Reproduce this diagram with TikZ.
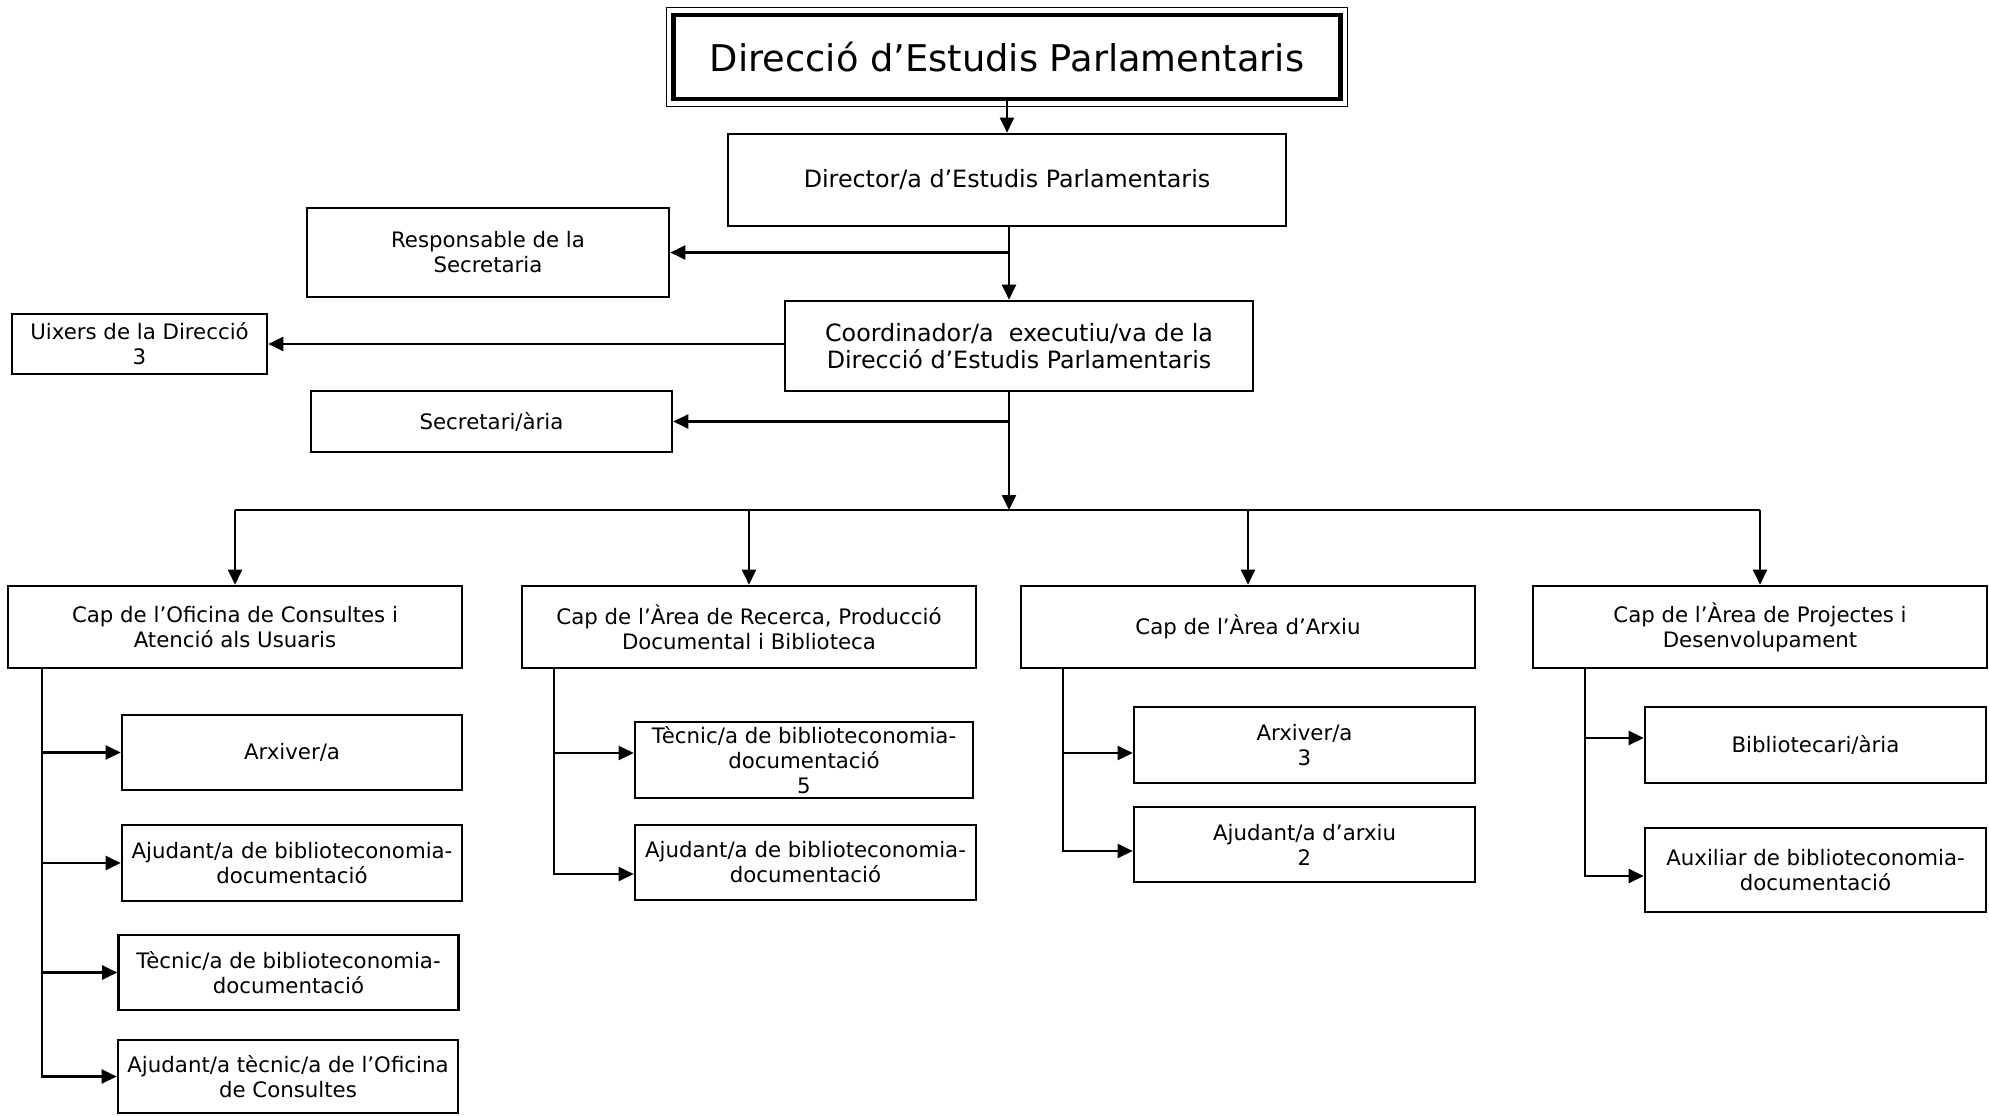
\documentclass[tikz,border=0pt]{standalone}
\usepackage{fontspec}
\setmainfont{DejaVu Sans}
\usetikzlibrary{arrows.meta}

\begin{document}
\begin{tikzpicture}[x=1pt,y=-1pt,
    box/.style={draw, line width=2.6pt, align=center, inner sep=0pt,
                font=\fontsize{21.3}{25}\selectfont},
    bigbox/.style={box, font=\fontsize{23.8}{27.5}\selectfont},
    head/.style={box, minimum width=454pt, minimum height=82pt},
    sub/.style={box, minimum width=340pt, minimum height=76pt},
    line/.style={line width=2.2pt},
    arr/.style={line width=2.2pt, -{Triangle[length=15pt,width=14pt]}}]

\useasboundingbox (0,0) rectangle (1989,1116);

% top of the chart
\node[draw, line width=4.5pt, minimum width=667pt, minimum height=84pt,
      font=\fontsize{36.8}{40}\selectfont] (dep) at (1007,57) {Direcció d’Estudis Parlamentaris};
\draw[line width=1.2pt] ([shift={(-5,-5)}]dep.north west) rectangle ([shift={(5,5)}]dep.south east);

\node[bigbox, minimum width=558pt, minimum height=92pt] (director) at (1007,180) {Director/a d’Estudis Parlamentaris};
\node[box, minimum width=362pt, minimum height=89pt] (resp) at (488,252.5) {Responsable de la\\Secretaria};
\node[box, minimum width=255pt, minimum height=60pt] (uixers) at (139.5,344) {Uixers de la Direcció\\3};
\node[bigbox, minimum width=468pt, minimum height=90pt] (coord) at (1019,346) {Coordinador/a \ executiu/va de la\\Direcció d’Estudis Parlamentaris};
\node[box, minimum width=361pt, minimum height=61pt] (secr) at (491.5,421.5) {Secretari/ària};

% areas
\node[head] (ofi) at (235,627) {Cap de l’Oficina de Consultes i\\Atenció als Usuaris};
\node[head] (rec) at (749,627) {Cap de l’Àrea de Recerca, Producció\\Documental i Biblioteca};
\node[head] (arx) at (1248,627) {Cap de l’Àrea d’Arxiu};
\node[head] (proj) at (1760,627) {Cap de l’Àrea de Projectes i\\Desenvolupament};

% staff
\node[sub, minimum height=75pt] (ofi1) at (292,752.5) {Arxiver/a};
\node[sub] (ofi2) at (292,863) {Ajudant/a de biblioteconomia-\\documentació};
\node[sub, minimum height=75pt] (ofi3) at (288.5,972.5) {Tècnic/a de biblioteconomia-\\documentació};
\node[sub, minimum height=73pt] (ofi4) at (288,1076.5) {Ajudant/a tècnic/a de l’Oficina\\de Consultes};

\node[sub, minimum width=338pt] (rec1) at (804,760) {Tècnic/a de biblioteconomia-\\documentació\\5};
\node[sub, minimum width=341pt, minimum height=75pt] (rec2) at (805.5,862.5) {Ajudant/a de biblioteconomia-\\documentació};

\node[sub, minimum width=341pt] (arx1) at (1304.5,745) {Arxiver/a\\3};
\node[sub, minimum width=341pt, minimum height=75pt] (arx2) at (1304.5,844.5) {Ajudant/a d’arxiu\\2};

\node[sub, minimum width=341pt] (proj1) at (1815.5,745) {Bibliotecari/ària};
\node[sub, minimum width=341pt, minimum height=84pt] (proj2) at (1815.5,870) {Auxiliar de biblioteconomia-\\documentació};

% connectors
\coordinate (sp) at (1009,0);
\coordinate (bus) at (1009,510);
\draw[arr] (dep.south) -- (director.north);
\draw[arr] (director.south -| sp) -- (coord.north -| sp);
\draw[arr] (sp |- resp.east) -- (resp.east);
\draw[arr] (coord.west |- uixers.east) -- (uixers.east);
\draw[arr] (sp |- secr.east) -- (secr.east);
\draw[arr] (coord.south -| sp) -- (bus);
\draw[line] (ofi.north |- bus) -- (proj.north |- bus);
\foreach \n in {ofi,rec,arx,proj}
  \draw[arr] (\n.north |- bus) -- (\n.north);

\coordinate (o) at (42,668);
\coordinate (r) at (554,668);
\coordinate (a) at (1063,668);
\coordinate (p) at (1585,668);
\foreach \t in {ofi1,ofi2,ofi3,ofi4}
  \draw[arr] (o) |- (\t.west);
\draw[arr] (r) |- ([yshift=7pt]rec1.west);
\draw[arr] (r) |- ([yshift=-11.5pt]rec2.west);
\draw[arr] (a) |- ([yshift=-8pt]arx1.west);
\draw[arr] (a) |- ([yshift=-6.5pt]arx2.west);
\draw[arr] (p) |- ([yshift=7pt]proj1.west);
\draw[arr] (p) |- ([yshift=-6pt]proj2.west);
\end{tikzpicture}
\end{document}
